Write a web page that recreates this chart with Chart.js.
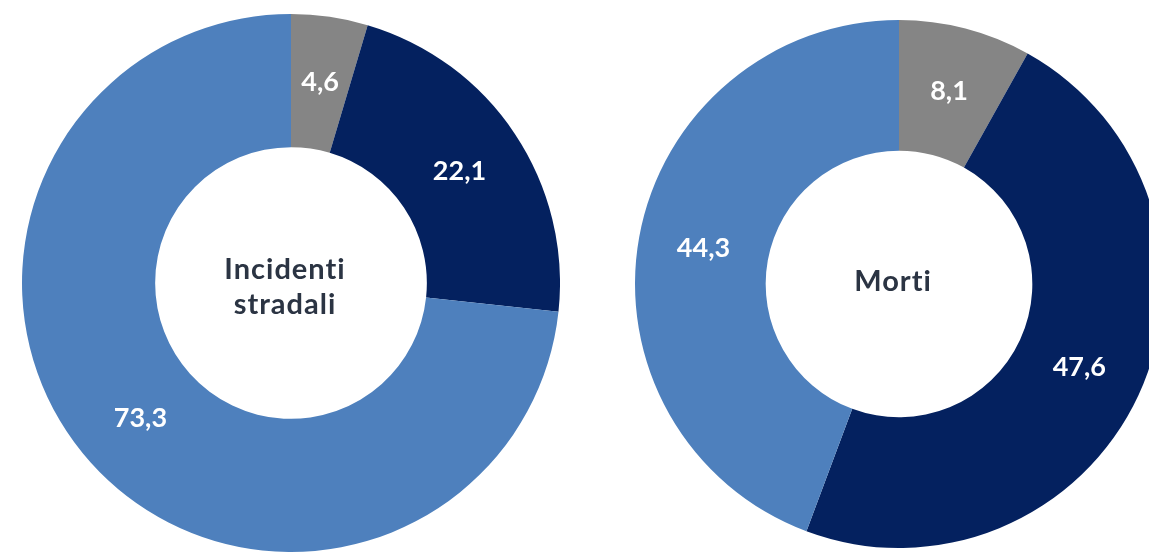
<!DOCTYPE html>
<html lang="it">
<head>
    <meta charset="UTF-8">
    <title>Incidenti stradali e morti per tipo di strada</title>
    <script src="https://cdn.jsdelivr.net/npm/chart.js@4.4.1/dist/chart.umd.min.js"></script>
    <style>
        html, body { margin: 0; padding: 0; background: #fff; }
        body { position: relative; width: 1149px; height: 556px; overflow: hidden; }
        .ring { position: absolute; }
        #incidenti { left: 22px; top: 14px; }
        #morti { left: 635px; top: 20px; }
    </style>
</head>
<body>
    <div class="ring" id="incidenti"><canvas id="incidentiChart" width="538" height="538"></canvas></div>
    <div class="ring" id="morti"><canvas id="mortiChart" width="528" height="528"></canvas></div>

    <script>
        // quote percentuali per tipo di strada
        const tipiStrada = ['Autostrade', 'Strade extraurbane', 'Strade urbane'];
        const incidenti = [4.6, 22.1, 73.3];
        const morti = [8.1, 47.6, 44.3];
        const colori = ['#858585', '#04215f', '#4e80bd'];

        const fmt = v => v.toFixed(1).replace('.', ',');

        // etichette bianche sugli spicchi + titolo nel foro
        const ringLabels = {
            id: 'ringLabels',
            afterDatasetsDraw(chart, args, opts) {
                const ctx = chart.ctx;
                const meta = chart.getDatasetMeta(0);
                const values = chart.data.datasets[0].data;
                ctx.save();
                ctx.textAlign = 'center';
                ctx.textBaseline = 'middle';
                ctx.font = 'bold 27px Lato';
                ctx.fillStyle = '#ffffff';
                meta.data.forEach((arc, i) => {
                    const p = arc.tooltipPosition();
                    ctx.fillText(fmt(values[i]), p.x, p.y);
                });
                const c = meta.data[0];
                const lines = opts.title;
                ctx.font = 'bold 29px Lato';
                ctx.letterSpacing = '1px'; // niente legatura "ti"
                ctx.fillStyle = '#2b3443';
                const lh = 35;
                const dy = lines.length > 1 ? 4 : -2;
                lines.forEach((t, i) => {
                    ctx.fillText(t, c.x - 6, c.y + (i - (lines.length - 1) / 2) * lh + dy);
                });
                ctx.restore();
            }
        };

        function createChart(id, data, title) {
            const ctx = document.getElementById(id).getContext('2d');
            new Chart(ctx, {
                type: 'doughnut',
                data: {
                    labels: tipiStrada,
                    datasets: [{
                        data: data,
                        backgroundColor: colori,
                        borderWidth: 0
                    }]
                },
                options: {
                    responsive: false,
                    animation: false,
                    events: [],
                    cutout: '50.5%',
                    layout: { padding: 0 },
                    plugins: {
                        legend: { display: false },
                        tooltip: { enabled: false },
                        ringLabels: { title: title }
                    }
                },
                plugins: [ringLabels]
            });
        }

        createChart('incidentiChart', incidenti, ['Incidenti', 'stradali']);
        createChart('mortiChart', morti, ['Morti']);
    </script>
</body>
</html>
